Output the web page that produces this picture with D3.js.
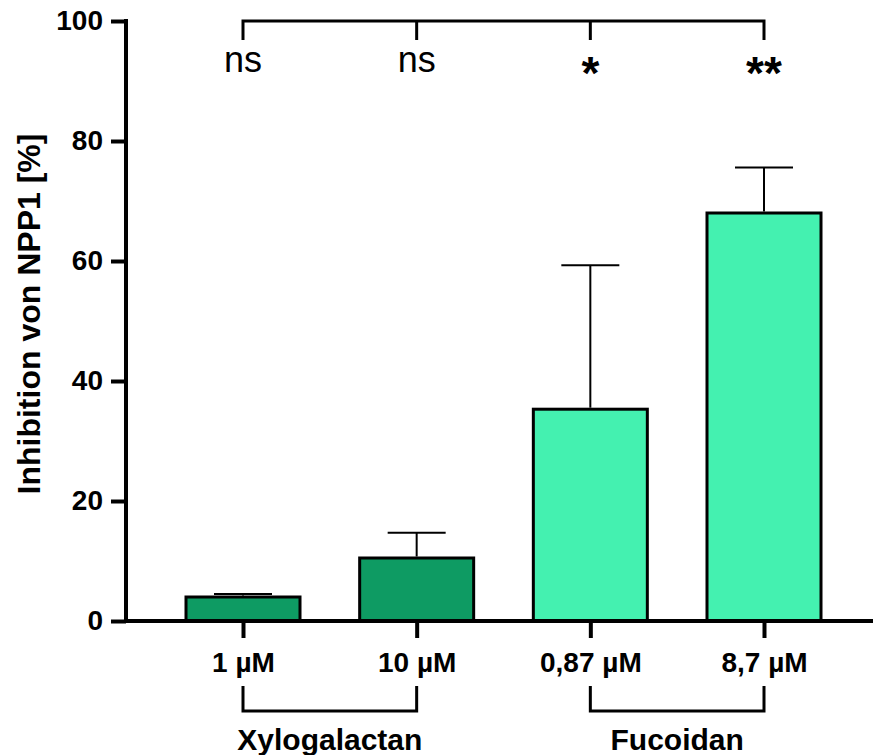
<!DOCTYPE html>
<html>
<head>
<meta charset="utf-8">
<script src="https://cdn.jsdelivr.net/npm/d3@7"></script>
<style>
  body { margin: 0; background: #fff; }
  svg { font-family: Arial, "Liberation Sans", sans-serif; }
</style>
</head>
<body>
<svg width="873" height="755"></svg>
<script>
// data
var categories = ["1 µM", "10 µM", "0,87 µM", "8,7 µM"];
var means = [4.0, 10.5, 35.3, 68.0];
var errors = [0.5, 4.2, 24.0, 7.6];
var groups = ["Xylogalactan", "Xylogalactan", "Fucoidan", "Fucoidan"];
var groupNames = ["Xylogalactan", "Fucoidan"];
var significance = ["ns", "ns", "*", "**"];
var yTicks = [0, 20, 40, 60, 80, 100];

var colors = { "Xylogalactan": "#0e9b63", "Fucoidan": "#44f1b0" };
var font = "Arial, 'Liberation Sans', sans-serif";

var svg = d3.select("svg");

var y = d3.scaleLinear().domain([0, 100]).range([621, 21]);
var x = d3.scalePoint().domain(categories).range([243, 764]);
var barW = 114;

// bars
svg.selectAll("rect.bar")
    .data(categories)
    .enter().append("rect")
    .attr("class", "bar")
    .attr("x", function (d) { return x(d) - barW / 2; })
    .attr("y", function (d, i) { return y(means[i]); })
    .attr("width", barW)
    .attr("height", function (d, i) { return y(0) - y(means[i]); })
    .attr("fill", function (d, i) { return colors[groups[i]]; })
    .attr("stroke", "#000")
    .attr("stroke-width", 3);

// error bars (upper only)
categories.forEach(function (c, i) {
    var top = y(means[i] + errors[i]);
    svg.append("line")
        .attr("x1", x(c)).attr("x2", x(c))
        .attr("y1", y(means[i]) - 1.5).attr("y2", top)
        .attr("stroke", "#000").attr("stroke-width", 2);
    svg.append("line")
        .attr("x1", x(c) - 29).attr("x2", x(c) + 29)
        .attr("y1", top).attr("y2", top)
        .attr("stroke", "#000").attr("stroke-width", 2);
});

// y axis
var yAxis = svg.append("g")
    .attr("transform", "translate(126,0)")
    .call(d3.axisLeft(y).tickValues(yTicks).tickSize(15).tickPadding(8));
yAxis.select(".domain").attr("stroke-width", 4).attr("d", "M0,19V621");
yAxis.selectAll(".tick line").attr("stroke-width", 4);
yAxis.selectAll(".tick text")
    .attr("font-size", 28).attr("font-weight", "bold").attr("fill", "#000")
    .attr("font-family", font);

// x axis
var xAxis = svg.append("g")
    .attr("transform", "translate(0,621)")
    .call(d3.axisBottom(x).tickSize(17).tickPadding(14));
xAxis.select(".domain").attr("stroke-width", 4).attr("d", "M124,0H873");
xAxis.selectAll(".tick line").attr("stroke-width", 4);
xAxis.selectAll(".tick text")
    .attr("font-size", 28).attr("font-weight", "bold").attr("fill", "#000")
    .attr("font-family", font);

// y label
svg.append("text")
    .attr("transform", "translate(40,314) rotate(-90)")
    .attr("text-anchor", "middle")
    .attr("font-size", 32).attr("font-weight", "bold")
    .text("Inhibition von NPP1 [%]");

// significance bracket
var sigY = 21;
svg.append("path")
    .attr("d", "M" + x(categories[0]) + ",40V" + sigY + "H" + x(categories[3]) + "V40")
    .attr("fill", "none").attr("stroke", "#000").attr("stroke-width", 3);
categories.slice(1, 3).forEach(function (c) {
    svg.append("line")
        .attr("x1", x(c)).attr("x2", x(c))
        .attr("y1", sigY).attr("y2", 40)
        .attr("stroke", "#000").attr("stroke-width", 3);
});
svg.selectAll("text.sig")
    .data(significance)
    .enter().append("text")
    .attr("class", "sig")
    .attr("x", function (d, i) { return x(categories[i]); })
    .attr("y", function (d) { return d === "ns" ? 72 : 89; })
    .attr("text-anchor", "middle")
    .attr("font-size", function (d) { return d === "ns" ? 36 : 46; })
    .attr("font-weight", function (d) { return d === "ns" ? "normal" : "bold"; })
    .text(function (d) { return d; });

// group brackets
groupNames.forEach(function (g) {
    var members = categories.filter(function (c, i) { return groups[i] === g; });
    var x0 = x(members[0]), x1 = x(members[members.length - 1]);
    svg.append("path")
        .attr("d", "M" + x0 + ",686V711H" + x1 + ",V686")
        .attr("fill", "none").attr("stroke", "#000").attr("stroke-width", 3);
    svg.append("text")
        .attr("x", (x0 + x1) / 2).attr("y", 750)
        .attr("text-anchor", "middle")
        .attr("font-size", 30).attr("font-weight", "bold")
        .text(g);
});
</script>
</body>
</html>
